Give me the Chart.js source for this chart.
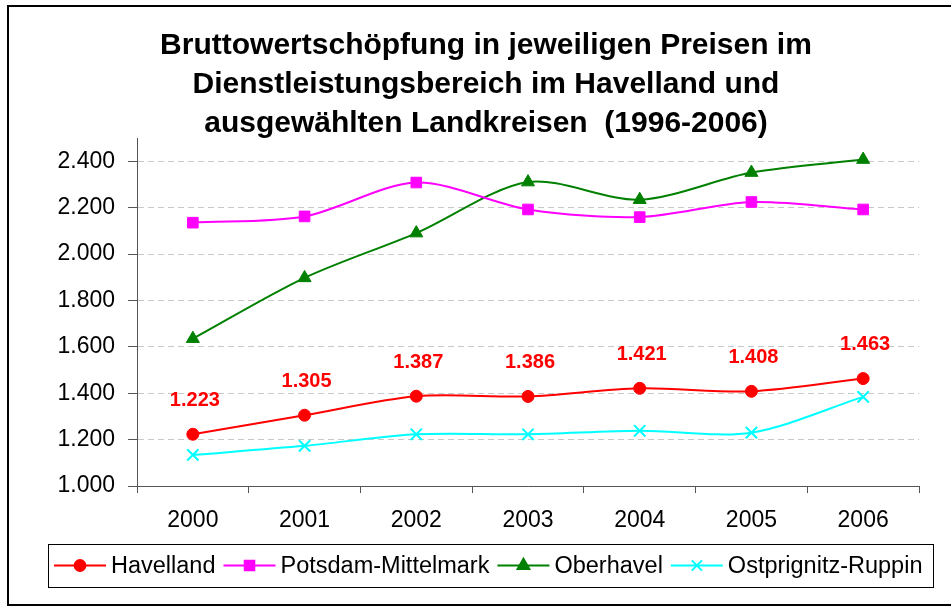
<!DOCTYPE html>
<html lang="de">
<head>
<meta charset="utf-8">
<title>Bruttowertschöpfung Dienstleistungsbereich</title>
<script src="https://cdn.jsdelivr.net/npm/chart.js@4.4.1/dist/chart.umd.min.js"></script>
<style>
  html, body { margin: 0; padding: 0; background: #fff; }
  #wrap { width: 951px; height: 607px; }
</style>
</head>
<body>
<div id="wrap"><canvas id="chart" width="951" height="607"></canvas></div>
<script>
const years = ["2000", "2001", "2002", "2003", "2004", "2005", "2006"];
const havelland = [1223, 1305, 1387, 1386, 1421, 1408, 1463];
const potsdamMittelmark = [2135, 2162, 2308, 2192, 2159, 2224, 2192];
const oberhavel = [1635, 1897, 2090, 2310, 2234, 2351, 2407];
const ostprignitzRuppin = [1134, 1173, 1223, 1223, 1238, 1230, 1384];
const yTicks = [1000, 1200, 1400, 1600, 1800, 2000, 2200, 2400];
const titleLines = [
  "Bruttowertschöpfung in jeweiligen Preisen im",
  "Dienstleistungsbereich im Havelland und",
  "ausgewählten Landkreisen  (1996-2006)",
];

const FONT = 'Arial, "Liberation Sans", sans-serif';

// 1223 -> "1.223"
function fmt(v) {
  return String(v).replace(/\B(?=(\d{3})+(?!\d))/g, ".");
}

// frame round the whole chart (right edge runs off the canvas)
const frame = {
  id: "frame",
  afterDraw(chart) {
    const ctx = chart.ctx;
    ctx.save();
    ctx.strokeStyle = "#000";
    ctx.lineWidth = 2;
    ctx.beginPath();
    ctx.moveTo(chart.width + 2, 6);
    ctx.lineTo(8, 6);
    ctx.lineTo(8, 605);
    ctx.lineTo(chart.width + 2, 605);
    ctx.stroke();
    ctx.restore();
  },
};

// value labels above the Havelland points
const pointLabels = {
  id: "pointLabels",
  afterDatasetsDraw(chart) {
    const meta = chart.getDatasetMeta(0);
    const values = chart.data.datasets[0].data;
    const ctx = chart.ctx;
    ctx.save();
    ctx.font = "bold 20px " + FONT;
    ctx.fillStyle = "#ff0000";
    ctx.textAlign = "center";
    ctx.textBaseline = "middle";
    meta.data.forEach((pt, i) => {
      ctx.fillText(fmt(values[i]), pt.x + 2, pt.y - 34);
    });
    ctx.restore();
  },
};

// boxed legend with line + marker samples
const legendBox = {
  id: "legendBox",
  afterDraw(chart) {
    const ctx = chart.ctx;
    const left = 48, top = 544, right = 933, bottom = 587;
    const y = (top + bottom) / 2;
    ctx.save();
    ctx.strokeStyle = "#000";
    ctx.lineWidth = 1;
    ctx.strokeRect(left + 0.5, top + 0.5, right - left, bottom - top);

    ctx.font = "23.5px " + FONT;
    ctx.textBaseline = "middle";
    ctx.textAlign = "left";
    let x = 54;
    chart.data.datasets.forEach((ds) => {
      ctx.strokeStyle = ds.borderColor;
      ctx.fillStyle = ds.pointBackgroundColor;
      ctx.lineWidth = 2;
      ctx.beginPath();
      ctx.moveTo(x, y);
      ctx.lineTo(x + 52, y);
      ctx.stroke();
      Chart.helpers.drawPoint(ctx, {
        pointStyle: ds.pointStyle,
        radius: ds.pointRadius * 0.9,
        borderWidth: ds.pointBorderWidth,
        rotation: 0,
      }, x + 26, y);
      ctx.fillStyle = "#000";
      ctx.fillText(ds.label, x + 57, y + 1);
      x += 57 + ctx.measureText(ds.label).width + 8;
    });
    ctx.restore();
  },
};

function series(label, data, color, pointStyle, radius) {
  return {
    label,
    data,
    borderColor: color,
    backgroundColor: color,
    pointBackgroundColor: color,
    pointBorderColor: color,
    pointStyle,
    pointRadius: radius,
    pointBorderWidth: pointStyle === "crossRot" ? 2 : 1,
    borderWidth: 2,
    tension: 0.3,
    fill: false,
  };
}

new Chart(document.getElementById("chart"), {
  type: "line",
  data: {
    labels: years,
    datasets: [
      series("Havelland", havelland, "#ff0000", "circle", 6),
      series("Potsdam-Mittelmark", potsdamMittelmark, "#ff00ff", "rect", 7.5),
      series("Oberhavel", oberhavel, "#008000", "triangle", 7.5),
      series("Ostprignitz-Ruppin", ostprignitzRuppin, "#00ffff", "crossRot", 8),
    ],
  },
  options: {
    responsive: false,
    animation: false,
    events: [],
    layout: {
      padding: { left: 53, right: 32, top: 0, bottom: 72 },
    },
    scales: {
      x: {
        offset: true,
        afterFit(scale) {
          scale.height = 49;
        },
        grid: {
          offset: true,
          drawOnChartArea: false,
          tickLength: 7,
          tickColor: "#555",
        },
        border: { color: "#555", width: 1 },
        ticks: {
          color: "#000",
          font: { family: FONT, size: 23 },
          padding: 14,
          maxRotation: 0,
        },
      },
      y: {
        min: 1000,
        max: 2500,
        afterFit(scale) {
          scale.width = 84;
        },
        afterBuildTicks(scale) {
          scale.ticks = yTicks.map((v) => ({ value: v }));
        },
        grid: {
          color: "#c8c8c8",
          tickLength: 9,
          tickColor: "#555",
          tickBorderDash: [],
        },
        border: { color: "#555", width: 1, dash: [6, 4] },
        ticks: {
          color: "#000",
          font: { family: FONT, size: 23 },
          padding: 13,
          callback: (v) => fmt(v),
        },
      },
    },
    plugins: {
      legend: { display: false },
      tooltip: { enabled: false },
      title: {
        display: true,
        text: titleLines,
        color: "#000",
        font: { family: FONT, size: 30, weight: "bold", lineHeight: "39px" },
        padding: { top: 26, bottom: -5 },
      },
    },
  },
  plugins: [frame, pointLabels, legendBox],
});
</script>
</body>
</html>
